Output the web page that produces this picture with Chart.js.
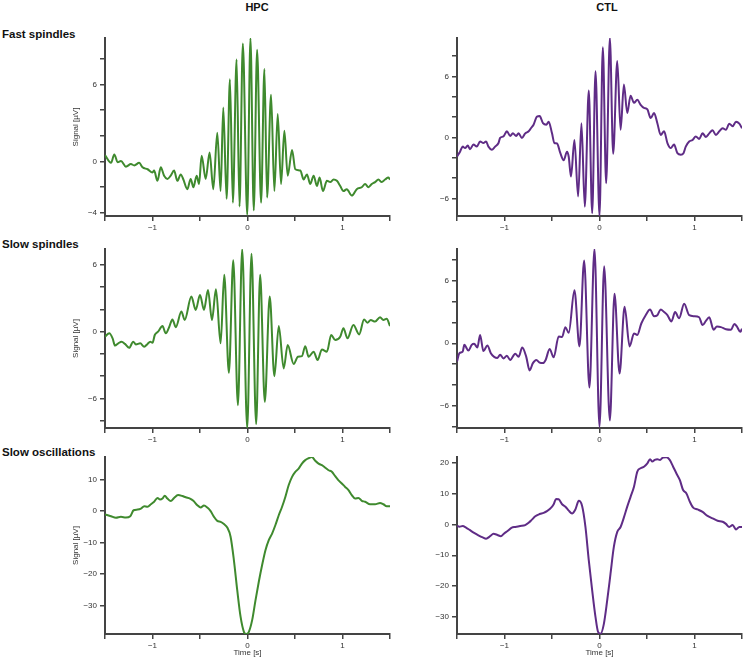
<!DOCTYPE html>
<html>
<head>
<meta charset="utf-8">
<script src="https://cdn.jsdelivr.net/npm/chart.js@4.4.1/dist/chart.umd.min.js"></script>
<style>
  html, body { margin: 0; padding: 0; overflow: hidden; background: #fff; }
  body { width: 744px; height: 659px; position: relative; font-family: "Liberation Sans", Arial, Helvetica, sans-serif; }
  .head { position: absolute; font-weight: bold; color: #111; white-space: nowrap; }
  .col { font-size: 11px; line-height: 11px; transform: translateX(-50%); }
  .row { font-size: 11.5px; line-height: 11.5px; left: 2px; }
  canvas { position: absolute; }
</style>
</head>
<body>
<div class="head col" style="left:257px; top:1.5px;">HPC</div>
<div class="head col" style="left:607px; top:1.5px;">CTL</div>
<div class="head row" style="top:29px;">Fast spindles</div>
<div class="head row" style="top:239px;">Slow spindles</div>
<div class="head row" style="top:447px;">Slow oscillations</div>

<canvas id="hpcFast"></canvas>
<canvas id="ctlFast"></canvas>
<canvas id="hpcSlow"></canvas>
<canvas id="ctlSlow"></canvas>
<canvas id="hpcSO"></canvas>
<canvas id="ctlSO"></canvas>

<script>
// time axis
const timeTicks = [-1.5, -1, -0.5, 0, 0.5, 1, 1.5];
const timeLabels = [-1, 0, 1];

// fast spindles, HPC
const hpcFastT = [-1.5,-1.437,-1.402,-1.367,-1.332,-1.28,-1.227,-1.192,-1.14,-1.105,-1.052,-1.0,-0.983,-0.948,-0.913,-0.878,-0.843,-0.808,-0.773,-0.738,-0.703,-0.675,-0.633,-0.598,-0.57,-0.535,-0.51,-0.483,-0.44,-0.399,-0.36,-0.318,-0.283,-0.255,-0.22,-0.185,-0.154,-0.115,-0.084,-0.049,-0.003,0.031,0.066,0.101,0.143,0.178,0.206,0.248,0.283,0.318,0.353,0.388,0.423,0.469,0.503,0.556,0.591,0.626,0.661,0.696,0.731,0.759,0.794,0.836,0.871,0.906,0.941,0.976,1.01,1.045,1.098,1.15,1.203,1.238,1.273,1.308,1.343,1.378,1.413,1.448,1.483,1.5];
const hpcFastV = [0.5,-0.1,0.55,-0.05,0.05,-0.4,-0.2,-0.3,-0.1,-0.45,-0.6,-0.85,-0.7,-1.5,-0.45,-1.1,-1.35,-1.1,-0.7,-1.5,-1.0,-1.4,-2.15,-1.35,-2.0,-1.1,-1.75,0.45,-1.35,0.7,-2.15,2.25,-2.3,4.2,-2.9,6.4,-3.2,7.95,-3.5,9.2,-4.15,9.6,-3.8,8.7,-3.2,7.2,-2.8,5.2,-2.3,3.7,-1.75,2.4,-1.1,0.9,-0.6,-0.7,-1.4,-1.0,-1.75,-1.1,-1.9,-1.25,-2.3,-1.5,-1.6,-1.4,-1.5,-1.9,-2.3,-2.15,-2.65,-2.15,-2.0,-1.75,-2.0,-1.75,-1.6,-1.4,-1.6,-1.4,-1.25,-1.4];
const hpcFastTicks = [8, 6, 4, 2, 0, -2, -4];
const hpcFastLabels = [6, 0, -4];

// fast spindles, CTL
const ctlFastT = [-1.5,-1.468,-1.44,-1.415,-1.387,-1.363,-1.327,-1.292,-1.257,-1.222,-1.194,-1.169,-1.134,-1.099,-1.063,-1.046,-1.011,-0.975,-0.94,-0.912,-0.877,-0.852,-0.817,-0.782,-0.746,-0.722,-0.694,-0.658,-0.63,-0.595,-0.56,-0.535,-0.5,-0.475,-0.447,-0.412,-0.377,-0.342,-0.324,-0.3,-0.264,-0.225,-0.19,-0.155,-0.113,-0.077,-0.042,0.0,0.035,0.07,0.109,0.144,0.187,0.222,0.257,0.292,0.327,0.363,0.398,0.433,0.468,0.504,0.539,0.574,0.609,0.644,0.68,0.715,0.75,0.785,0.82,0.856,0.884,0.908,0.944,0.979,1.014,1.049,1.085,1.12,1.155,1.19,1.225,1.261,1.296,1.331,1.366,1.401,1.437,1.472,1.5];
const ctlFastV = [-1.87,-1.4,-0.9,-1.05,-0.8,-1.15,-0.7,-0.9,-0.4,-0.55,-0.4,-0.9,-1.2,-0.9,-0.55,-0.05,0.1,0.6,0.15,0.4,0.15,0.4,-0.05,0.4,0.6,0.9,1.25,2.05,2.1,1.4,1.25,1.55,0.4,-0.55,-0.6,-1.55,-2.25,-1.4,-1.9,-3.85,-0.25,-5.8,1.4,-6.8,4.6,-7.45,6.5,-7.7,8.85,-4.5,9.77,-1.6,7.5,0.75,5.2,2.4,4.1,3.4,3.7,3.2,2.9,2.75,1.9,2.4,1.4,0.25,0.6,-0.55,-1.05,-0.7,-1.55,-1.7,-1.55,-0.9,-0.4,-0.25,0.1,-0.15,0.4,0.05,0.4,0.7,0.25,0.6,0.9,0.75,1.35,1.1,1.55,1.35,0.9];
const ctlFastTicks = [8, 6, 4, 2, 0, -2, -4, -6];
const ctlFastLabels = [6, 0, -6];

// slow spindles, HPC
const hpcSlowT = [-1.5,-1.455,-1.42,-1.395,-1.36,-1.325,-1.29,-1.245,-1.203,-1.175,-1.129,-1.087,-1.052,-1.024,-1.0,-0.976,-0.941,-0.895,-0.86,-0.825,-0.79,-0.755,-0.696,-0.661,-0.591,-0.545,-0.5,-0.458,-0.416,-0.374,-0.332,-0.283,-0.245,-0.196,-0.15,-0.101,-0.056,-0.003,0.042,0.091,0.133,0.182,0.234,0.283,0.329,0.381,0.423,0.486,0.531,0.573,0.608,0.643,0.696,0.738,0.783,0.836,0.881,0.923,0.976,1.01,1.052,1.115,1.175,1.227,1.262,1.297,1.343,1.395,1.43,1.465,1.5];
const hpcSlowV = [-0.45,-0.15,-0.6,-1.25,-1.05,-0.9,-1.1,-1.45,-0.9,-1.15,-1.05,-1.35,-1.1,-0.9,-1.0,-0.3,0.0,0.5,-0.15,0.4,1.1,0.4,1.8,1.05,3.15,1.95,3.3,1.95,3.75,1.05,3.8,-1.05,5.1,-3.7,6.4,-6.6,7.4,-8.65,7.0,-8.3,5.1,-6.3,3.15,-4.0,0.5,-3.3,-1.2,-2.9,-2.25,-2.2,-1.3,-2.25,-1.8,-2.55,-1.6,-1.8,-0.3,-0.75,-0.45,0.3,-0.6,0.6,-0.25,1.1,0.8,1.05,0.9,1.3,1.05,1.15,0.5];
const hpcSlowTicks = [6, 4, 2, 0, -2, -4, -6, -8];
const hpcSlowLabels = [6, 0, -6];

// slow spindles, CTL
const ctlSlowT = [-1.5,-1.475,-1.44,-1.423,-1.38,-1.345,-1.32,-1.285,-1.257,-1.222,-1.18,-1.144,-1.109,-1.074,-1.046,-1.011,-0.975,-0.94,-0.887,-0.852,-0.813,-0.771,-0.736,-0.701,-0.665,-0.63,-0.595,-0.567,-0.525,-0.482,-0.43,-0.394,-0.359,-0.324,-0.264,-0.211,-0.162,-0.106,-0.053,0.0,0.049,0.109,0.158,0.211,0.264,0.317,0.363,0.398,0.44,0.486,0.532,0.574,0.609,0.644,0.68,0.715,0.757,0.796,0.838,0.891,0.944,0.996,1.049,1.085,1.12,1.155,1.201,1.236,1.278,1.331,1.384,1.419,1.447,1.482,1.5];
const ctlSlowV = [-1.75,-0.95,-0.8,-0.15,-0.7,-0.15,-0.05,-0.4,0.8,-0.75,-0.2,-0.95,-1.3,-1.4,-1.1,-1.45,-1.2,-1.6,-1.0,-1.3,-0.4,-1.3,-2.6,-1.9,-1.6,-1.85,-1.9,-1.6,-0.55,-1.35,0.65,0.6,1.55,1.0,5.1,-0.3,7.95,-4.25,9.05,-8.0,7.4,-7.4,4.75,-2.9,3.5,-0.3,0.95,0.8,1.9,2.7,3.25,2.6,2.7,3.25,3.0,2.7,2.1,3.0,2.4,3.8,2.7,2.6,2.5,1.75,2.15,2.5,1.3,1.6,1.55,1.35,1.3,1.85,1.6,1.1,1.4];
const ctlSlowTicks = [8, 6, 4, 2, 0, -2, -4, -6, -8];
const ctlSlowLabels = [6, 0, -6];

// slow oscillations, HPC
const hpcSOT = [-1.5,-1.437,-1.385,-1.332,-1.28,-1.234,-1.199,-1.157,-1.122,-1.087,-1.052,-1.017,-0.983,-0.948,-0.92,-0.895,-0.871,-0.843,-0.808,-0.773,-0.731,-0.685,-0.65,-0.605,-0.57,-0.528,-0.493,-0.458,-0.423,-0.388,-0.353,-0.318,-0.283,-0.248,-0.213,-0.178,-0.143,-0.108,-0.073,-0.038,-0.014,0.014,0.049,0.084,0.119,0.154,0.189,0.224,0.259,0.294,0.329,0.364,0.399,0.434,0.469,0.503,0.538,0.573,0.608,0.643,0.678,0.713,0.748,0.783,0.818,0.853,0.888,0.923,0.958,0.993,1.028,1.063,1.098,1.133,1.168,1.203,1.238,1.29,1.343,1.395,1.43,1.465,1.5];
const hpcSOV = [-1.05,-1.6,-2.1,-1.8,-2.0,-1.6,0.3,0.5,0.8,1.6,1.4,2.2,3.0,4.2,3.7,4.0,4.9,4.0,3.2,4.2,5.1,4.8,4.4,4.0,3.3,1.9,1.15,1.8,1.15,0.0,-1.8,-3.1,-3.4,-4.1,-5.2,-8.1,-15.6,-25.1,-33.5,-38.3,-39.0,-38.3,-34.6,-28.3,-22.4,-17.1,-12.4,-9.2,-7.1,-4.4,-1.3,1.4,4.6,8.3,10.9,12.5,13.5,15.1,16.2,16.8,17.2,16.0,15.1,14.6,13.8,13.0,12.5,11.1,9.8,8.8,7.7,6.7,5.1,4.0,4.2,3.3,3.0,2.2,2.2,2.6,2.2,1.6,1.6];
const hpcSOTicks = [10, 0, -10, -20, -30];

// slow oscillations, CTL
const ctlSOT = [-1.5,-1.475,-1.44,-1.405,-1.363,-1.32,-1.275,-1.229,-1.194,-1.151,-1.116,-1.074,-1.039,-1.004,-0.968,-0.923,-0.887,-0.835,-0.782,-0.746,-0.711,-0.676,-0.63,-0.588,-0.553,-0.518,-0.482,-0.458,-0.43,-0.394,-0.359,-0.324,-0.289,-0.254,-0.218,-0.183,-0.148,-0.113,-0.077,-0.042,-0.014,0.011,0.046,0.081,0.116,0.151,0.187,0.222,0.257,0.292,0.327,0.363,0.398,0.433,0.468,0.504,0.532,0.556,0.581,0.609,0.637,0.669,0.704,0.739,0.775,0.81,0.845,0.88,0.915,0.951,0.986,1.032,1.085,1.137,1.19,1.243,1.296,1.331,1.366,1.401,1.437,1.472,1.5];
const ctlSOV = [-0.4,-0.7,-0.5,-1.0,-1.85,-2.7,-3.5,-4.2,-4.6,-3.8,-3.0,-3.4,-3.8,-2.9,-2.1,-1.0,-0.8,-0.5,-0.2,0.55,1.6,2.7,3.4,3.8,4.35,5.2,6.6,8.3,8.2,6.6,5.8,4.5,3.6,4.9,7.7,6.0,-0.8,-11.6,-21.4,-30.1,-35.0,-35.5,-32.3,-24.7,-16.0,-7.3,-2.4,-0.8,2.3,5.8,9.0,12.3,17.2,18.3,18.8,19.9,21.2,20.5,21.0,21.2,21.0,21.8,21.9,21.0,18.8,16.6,14.5,11.2,10.1,7.4,5.5,4.9,4.1,2.8,2.0,1.2,0.9,0.2,-0.8,-0.2,-1.6,-0.8,-0.8];
const ctlSOTicks = [20, 10, 0, -10, -20, -30];

// layout
const Y_W = 60, X_H = 25, PAD_T = 12, PAD_R = 8;
const GREEN = '#3f8a2e', PURPLE = '#5f2c86', AXIS = '#444', TEXT = '#333';

function fmt(v) {
  return v < 0 ? '\u2212' + Math.abs(v) : String(v);
}

function makePanel(id, t, v, opts) {
  const canvas = document.getElementById(id);
  const w = Y_W + opts.plotW + PAD_R;
  const h = PAD_T + opts.plotH + X_H;
  canvas.width = w;
  canvas.height = h;
  canvas.style.left = (opts.left - Y_W) + 'px';
  canvas.style.top = (opts.top - PAD_T) + 'px';
  canvas.style.width = w + 'px';
  canvas.style.height = h + 'px';

  const points = t.map((x, i) => ({ x: x, y: v[i] }));
  const yLabels = opts.yLabels || opts.yTicks;

  return new Chart(canvas.getContext('2d'), {
    type: 'line',
    data: {
      datasets: [{
        data: points,
        borderColor: opts.color,
        borderWidth: 2,
        borderJoinStyle: 'round',
        pointRadius: 0,
        fill: false,
        cubicInterpolationMode: 'monotone'
      }]
    },
    options: {
      responsive: false,
      animation: false,
      devicePixelRatio: 1,
      layout: { padding: { top: PAD_T, right: PAD_R, left: 0, bottom: 0 } },
      plugins: { legend: { display: false }, tooltip: { enabled: false } },
      scales: {
        x: {
          type: 'linear',
          min: -1.5,
          max: 1.5,
          afterBuildTicks: s => { s.ticks = timeTicks.map(val => ({ value: val })); },
          afterFit: s => { s.height = X_H; },
          ticks: {
            autoSkip: false,
            maxRotation: 0,
            padding: 2,
            color: TEXT,
            font: { size: 8, family: '"Liberation Sans", Arial, sans-serif' },
            callback: val => timeLabels.includes(val) ? fmt(val) : ''
          },
          grid: { drawOnChartArea: false, drawTicks: true, tickLength: 5, color: AXIS, lineWidth: 1.5 },
          border: { display: true, color: AXIS, width: 2 },
          title: {
            display: !!opts.xTitle,
            text: 'Time [s]',
            color: TEXT,
            font: { size: 8, family: '"Liberation Sans", Arial, sans-serif' },
            padding: { top: 0, bottom: 1 }
          }
        },
        y: {
          type: 'linear',
          min: opts.yMin,
          max: opts.yMax,
          afterBuildTicks: s => { s.ticks = opts.yTicks.map(val => ({ value: val })); },
          afterFit: s => { s.width = Y_W; },
          ticks: {
            autoSkip: false,
            padding: 3,
            color: TEXT,
            font: { size: 8, family: '"Liberation Sans", Arial, sans-serif' },
            callback: val => yLabels.includes(val) ? fmt(val) : ''
          },
          grid: { drawOnChartArea: false, drawTicks: true, tickLength: 5, color: AXIS, lineWidth: 1.5 },
          border: { display: true, color: AXIS, width: 2 },
          title: {
            display: !!opts.yTitle,
            text: 'Signal [\u00b5V]',
            color: TEXT,
            font: { size: 8, family: '"Liberation Sans", Arial, sans-serif' },
            padding: { top: 26, bottom: 0 }
          }
        }
      }
    }
  });
}

const HPC_L = 105, CTL_L = 457, PLOT_W = 285;

makePanel('hpcFast', hpcFastT, hpcFastV, {
  left: HPC_L, top: 38, plotW: PLOT_W, plotH: 178, color: GREEN,
  yMin: -4.24, yMax: 9.62, yTicks: hpcFastTicks, yLabels: hpcFastLabels, yTitle: true
});
makePanel('ctlFast', ctlFastT, ctlFastV, {
  left: CTL_L, top: 38, plotW: PLOT_W, plotH: 178, color: PURPLE,
  yMin: -7.72, yMax: 9.77, yTicks: ctlFastTicks, yLabels: ctlFastLabels
});
makePanel('hpcSlow', hpcSlowT, hpcSlowV, {
  left: HPC_L, top: 249, plotW: PLOT_W, plotH: 179, color: GREEN,
  yMin: -8.65, yMax: 7.42, yTicks: hpcSlowTicks, yLabels: hpcSlowLabels, yTitle: true
});
makePanel('ctlSlow', ctlSlowT, ctlSlowV, {
  left: CTL_L, top: 249, plotW: PLOT_W, plotH: 179, color: PURPLE,
  yMin: -8.13, yMax: 9.05, yTicks: ctlSlowTicks, yLabels: ctlSlowLabels
});
makePanel('hpcSO', hpcSOT, hpcSOV, {
  left: HPC_L, top: 457, plotW: PLOT_W, plotH: 177, color: GREEN,
  yMin: -39.0, yMax: 17.2, yTicks: hpcSOTicks, yTitle: true, xTitle: true
});
makePanel('ctlSO', ctlSOT, ctlSOV, {
  left: CTL_L, top: 457, plotW: PLOT_W, plotH: 177, color: PURPLE,
  yMin: -35.6, yMax: 21.95, yTicks: ctlSOTicks, xTitle: true
});
</script>
</body>
</html>
